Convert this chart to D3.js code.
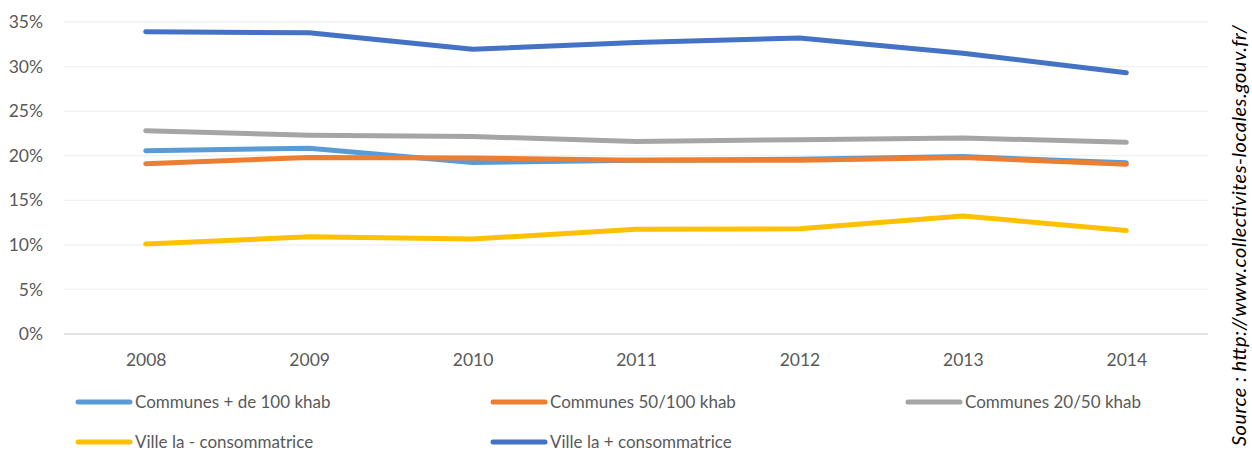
<!DOCTYPE html>
<html>
<head>
<meta charset="utf-8">
<script src="https://cdn.jsdelivr.net/npm/d3@7"></script>
<style>
  html, body { margin: 0; padding: 0; background: #fff; }
  svg { display: block; font-family: Lato, "Open Sans", sans-serif; }
</style>
</head>
<body>
<div id="chart"></div>
<script>
// Données
const years = ['2008', '2009', '2010', '2011', '2012', '2013', '2014'];
const yTicks = [0, 0.05, 0.10, 0.15, 0.20, 0.25, 0.30, 0.35];

const communes100 = [0.2055, 0.2085, 0.1925, 0.1950, 0.1960, 0.1990, 0.1920];
const communes50 = [0.1910, 0.1980, 0.1975, 0.1950, 0.1950, 0.1980, 0.1905];
const communes20 = [0.2280, 0.2230, 0.2215, 0.2160, 0.2180, 0.2200, 0.2150];
const villeMoins = [0.1010, 0.1090, 0.1065, 0.1175, 0.1180, 0.1325, 0.1160];
const villePlus = [0.3390, 0.3380, 0.3195, 0.3270, 0.3320, 0.3150, 0.2930];

const seriesNames = ['Communes + de 100 khab', 'Communes 50/100 khab', 'Communes 20/50 khab',
    'Ville la - consommatrice', 'Ville la + consommatrice'];
const seriesColors = ['#5B9BD5', '#ED7D31', '#A5A5A5', '#FFC000', '#4472C4'];
const sourceText = 'Source : http://www.collectivites-locales.gouv.fr/';

const series = [communes100, communes50, communes20, villeMoins, villePlus].map((values, i) => ({
    name: seriesNames[i],
    color: seriesColors[i],
    values: values.map((v, j) => ({ x: years[j], y: v }))
}));

const width = 1252;
const height = 451;
const margin = { top: 22, right: 44, bottom: 117, left: 64 };

const svg = d3.select('#chart')
    .append('svg')
    .attr('width', width)
    .attr('height', height);

// Échelles
const x = d3.scalePoint()
    .domain(years)
    .range([margin.left, width - margin.right])
    .padding(0.5);

const y = d3.scaleLinear()
    .domain([0, 0.35])
    .range([height - margin.bottom, margin.top]);

// Grille horizontale
svg.append('g')
    .selectAll('line')
    .data(yTicks)
    .join('line')
    .attr('x1', margin.left)
    .attr('x2', width - margin.right)
    .attr('y1', d => y(d))
    .attr('y2', d => y(d))
    .attr('stroke', d => d === 0 ? '#D9D9D9' : '#F0F0F0')
    .attr('stroke-width', 1.3);

// Axe Y
const yAxis = g => g
    .attr('transform', `translate(${margin.left},0)`)
    .call(d3.axisLeft(y).tickValues(yTicks).tickFormat(d3.format('.0%')).tickSize(0).tickPadding(21))
    .call(g => g.select('.domain').remove())
    .call(g => g.selectAll('text')
        .style('fill', '#595959')
        .style('font-size', '17.5px')
        .style('font-family', 'Lato, sans-serif'));

// Axe X
const xAxis = g => g
    .attr('transform', `translate(0,${height - margin.bottom})`)
    .call(d3.axisBottom(x).tickSize(0).tickPadding(20))
    .call(g => g.select('.domain').remove())
    .call(g => g.selectAll('text')
        .style('fill', '#595959')
        .style('font-size', '17.5px')
        .style('font-family', 'Lato, sans-serif'));

svg.append('g').call(yAxis);
svg.append('g').call(xAxis);

// Lignes
const line = d3.line()
    .x(d => x(d.x))
    .y(d => y(d.y));

svg.append('g')
    .selectAll('path')
    .data(series)
    .join('path')
    .attr('fill', 'none')
    .attr('stroke', d => d.color)
    .attr('stroke-width', 5)
    .attr('stroke-linecap', 'round')
    .attr('stroke-linejoin', 'round')
    .attr('d', d => line(d.values));

// Légende
const legendPos = [[78, 402], [493, 402], [908, 402], [78, 442], [493, 442]];

const legend = svg.append('g')
    .selectAll('g')
    .data(series)
    .join('g')
    .attr('transform', (d, i) => `translate(${legendPos[i][0]},${legendPos[i][1]})`);

legend.append('line')
    .attr('x1', 0)
    .attr('x2', 52)
    .attr('stroke', d => d.color)
    .attr('stroke-width', 5)
    .attr('stroke-linecap', 'round');

legend.append('text')
    .attr('x', 57)
    .attr('dy', '0.35em')
    .style('fill', '#595959')
    .style('font-size', '17px')
    .text(d => d.name);

// Source
svg.append('text')
    .attr('transform', 'translate(1246,25) rotate(-90)')
    .attr('text-anchor', 'end')
    .attr('textLength', 421)
    .attr('lengthAdjust', 'spacing')
    .style('font-style', 'italic')
    .style('font-size', '20px')
    .style('fill', '#000')
    .text(sourceText);
</script>
</body>
</html>
